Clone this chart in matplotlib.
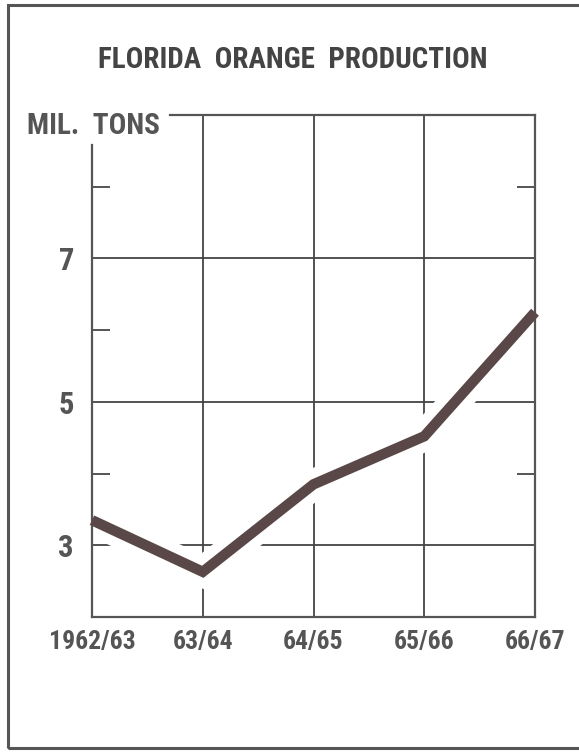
import matplotlib
matplotlib.use("Agg")
import matplotlib.pyplot as plt
from matplotlib.patches import Rectangle
from matplotlib.ticker import FixedLocator

seasons = ["1962/63", "63/64", "64/65", "65/66", "66/67"]
production = [3.35, 2.63, 3.85, 4.52, 6.25]
y_major = [3, 5, 7]
y_minor = [4, 6, 8]

FONT = ["Roboto Condensed", "Roboto", "DejaVu Sans"]
TXT = "#555555"
LINE = "#5a4848"
GRID = "#444444"

fig = plt.figure(figsize=(5.79, 7.55), dpi=100)
fig.patch.set_facecolor("white")

# outer frame
fig.patches.append(Rectangle((8/579, 1-748/755), 1.2, (748-5)/755,
                             transform=fig.transFigure, fill=False,
                             edgecolor="#555555", linewidth=2.2))

ax = fig.add_axes([92/579, 1-617/755, (535-92)/579, (617-115)/755])
x = list(range(len(seasons)))
ax.set_xlim(0, len(seasons)-1)
ax.set_ylim(2, 9)
ax.set_axisbelow(True)

ax.xaxis.set_major_locator(FixedLocator(x))
ax.set_xticklabels(seasons, family=FONT, fontsize=18.5, color=TXT, fontweight="bold")
ax.yaxis.set_major_locator(FixedLocator(y_major))
ax.set_yticklabels([str(v) for v in y_major], family=FONT, fontsize=22, color=TXT, fontweight="bold")
ax.yaxis.set_minor_locator(FixedLocator(y_minor))
ax.tick_params(axis="both", which="major", length=0)
ax.tick_params(axis="x", pad=9)
ax.tick_params(axis="y", pad=13)
ax.tick_params(axis="y", which="minor", direction="in", length=13, width=1.4,
               color="#555555", left=True, right=True)
ax.yaxis.grid(True, which="major", color=GRID, linewidth=1.3)
for xv in x[1:-1]:
    ax.axvline(xv, color=GRID, linewidth=1.3, zorder=0.5)

for s in ax.spines.values():
    s.set_color("#555555")
    s.set_linewidth(1.6)
    s.set_zorder(2.5)
ax.spines["left"].set_bounds(2, 2 + (617-143)/72)
ax.spines["top"].set_bounds((170-92)/110.75, len(seasons)-1)

# white halo behind the line breaks gridlines
ax.plot(x, production, color="white", linewidth=22, solid_capstyle="butt",
        solid_joinstyle="miter", zorder=1)
ax.plot(x, production, color=LINE, linewidth=7.5, solid_capstyle="butt",
        solid_joinstyle="miter", zorder=3, clip_on=False)

fig.text(293/579, 1-60/755, "FLORIDA  ORANGE  PRODUCTION",
         ha="center", va="center",
         family=FONT, fontsize=21, fontweight="bold", color="#444444")
fig.text(27/579, 1-126/755, "MIL.  TONS", ha="left", va="center",
         family=FONT, fontsize=21, fontweight="bold", color=TXT)

fig.savefig("out.png", dpi=100)
